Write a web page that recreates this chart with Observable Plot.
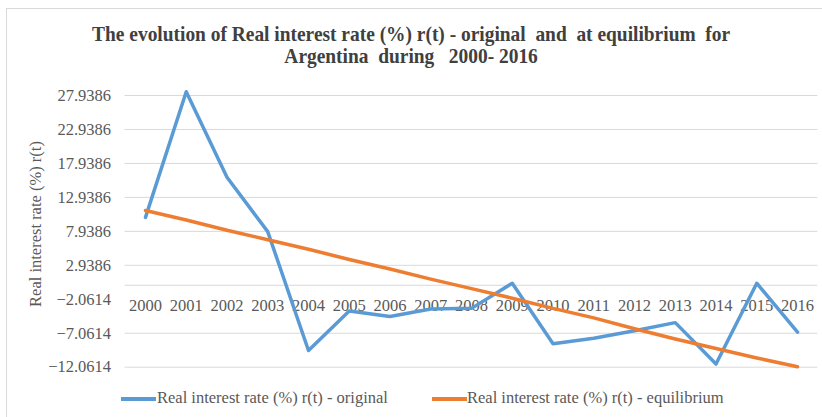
<!DOCTYPE html>
<html>
<head>
<meta charset="utf-8">
<script src="https://cdn.jsdelivr.net/npm/d3@7"></script>
<script src="https://cdn.jsdelivr.net/npm/@observablehq/plot@0.6"></script>
<style>
  html, body { margin: 0; padding: 0; background: #fff; }
  #wrap { position: relative; width: 822px; height: 417px; overflow: hidden; font-family: "Liberation Serif", "Times New Roman", serif; }
  #border { position: absolute; left: 6px; top: 8px; width: 840px; height: 440px; border: 1px solid #D9D9D9; box-sizing: border-box; }
  #plot { position: absolute; left: 0; top: 0; }
  .title { position: absolute; left: 0; width: 822px; text-align: center; font-weight: bold; font-size: 21px; line-height: 22px; color: #404040; white-space: pre; }
  .title span { display: inline-block; transform-origin: 50% 50%; }
  #ytitle { position: absolute; left: 36px; top: 224px; transform: translate(-50%, -50%) rotate(-90deg); font-size: 16.5px; color: #595959; white-space: nowrap; }
  .sw { position: absolute; height: 3.5px; width: 35px; }
  .lt { position: absolute; top: 388px; font-size: 16.5px; line-height: 20px; color: #595959; white-space: nowrap; }
</style>
</head>
<body>
<div id="wrap">
  <div id="border"></div>
  <div id="plot"></div>
  <div class="title" style="top:23px"><span id="t1">The evolution of Real interest rate (%) r(t) - original  and  at equilibrium  for</span></div>
  <div class="title" style="top:45px"><span id="t2">Argentina  during   2000- 2016</span></div>
  <div id="ytitle">Real interest rate (%) r(t)</div>
  <div class="sw" style="left:121px; top:397.25px; background:#5B9BD5"></div>
  <div class="lt" style="left:157px">Real interest rate (%) r(t) - original</div>
  <div class="sw" style="left:432px; top:397.25px; background:#ED7D31"></div>
  <div class="lt" style="left:467px">Real interest rate (%) r(t) - equilibrium</div>
</div>
<script>
const years = ["2000","2001","2002","2003","2004","2005","2006","2007","2008","2009","2010","2011","2012","2013","2014","2015","2016"];
const original = [10.0, 28.5, 15.9, 7.9, -9.6, -3.8, -4.6, -3.5, -3.4, 0.3, -8.6, -7.8, -6.7, -5.5, -11.6, 0.3, -6.9];
const equilibrium = [11.0, 9.6, 8.1, 6.7, 5.3, 3.8, 2.4, 0.9, -0.5, -1.9, -3.4, -4.8, -6.4, -7.9, -9.3, -10.7, -12.0];
const yTicks = [27.9386, 22.9386, 17.9386, 12.9386, 7.9386, 2.9386, -2.0614, -7.0614, -12.0614];

const data = years.map((y, i) => ({year: y, original: original[i], equilibrium: equilibrium[i]}));
const gridTicks = yTicks.filter(t => t !== -2.0614);

const chart = Plot.plot({
  width: 822,
  height: 417,
  marginTop: 95,
  marginBottom: 50.3,
  marginLeft: 124.6,
  marginRight: 4.6,
  style: {fontFamily: "Liberation Serif", background: "transparent", overflow: "visible"},
  x: {type: "point", domain: years, padding: 0.5, round: false, axis: null},
  y: {domain: [yTicks[yTicks.length - 1], yTicks[0]]},
  marks: [
    Plot.ruleY(gridTicks, {stroke: "#D9D9D9", strokeWidth: 1, strokeOpacity: 1}),
    Plot.ruleY([0], {stroke: "#D9D9D9", strokeWidth: 1, strokeOpacity: 1}),
    Plot.axisY(yTicks, {tickSize: 0, tickPadding: 14, textAnchor: "end", tickFormat: d3.format(".4f"), fontSize: 16.5, fill: "#595959", label: null}),
    Plot.text(years, {x: d => d, y: () => 0, dy: 20, fontSize: 16.5, fill: "#595959", textAnchor: "middle", lineAnchor: "middle"}),
    Plot.line(data, {x: "year", y: "original", stroke: "#5B9BD5", strokeWidth: 3.5, strokeLinejoin: "round", strokeLinecap: "round"}),
    Plot.line(data, {x: "year", y: "equilibrium", stroke: "#ED7D31", strokeWidth: 3.5, strokeLinejoin: "round", strokeLinecap: "round"})
  ]
});
document.getElementById("plot").appendChild(chart);

// condense the title to the reference width
const t1 = document.getElementById("t1"), t2 = document.getElementById("t2");
const k = 638 / t1.getBoundingClientRect().width;
t1.style.transform = `scaleX(${k})`;
t2.style.transform = `scaleX(${k})`;
</script>
</body>
</html>
